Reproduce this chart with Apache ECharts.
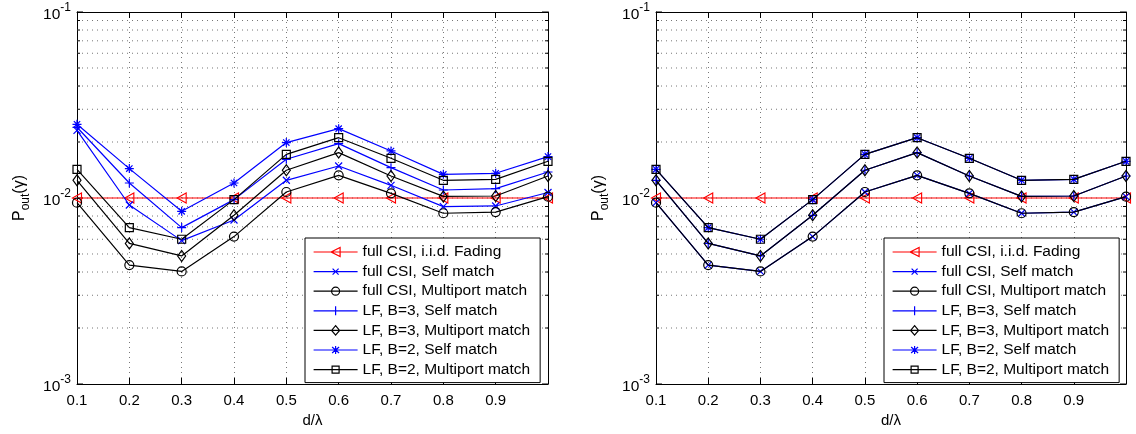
<!DOCTYPE html>
<html>
<head>
<meta charset="utf-8">
<script src="https://cdn.jsdelivr.net/npm/echarts@6/dist/echarts.min.js"></script>
<style>html,body{margin:0;padding:0;background:#fff;}#c{width:1136px;height:434px;}</style>
</head>
<body>
<div id="c"></div>
<script>
// ---- data ----
const xVals = [0.1, 0.2, 0.3, 0.4, 0.5, 0.6, 0.7, 0.8, 0.9, 1.0];
const xTickLabels = ['0.1','0.2','0.3','0.4','0.5','0.6','0.7','0.8','0.9',''];
const yLogTicks = [0.001,0.002,0.003,0.004,0.005,0.006,0.007,0.008,0.009,0.01,0.02,0.03,0.04,0.05,0.06,0.07,0.08,0.09,0.1];
const seriesNames = ['full CSI, i.i.d. Fading','full CSI, Self match','full CSI, Multiport match','LF, B=3, Self match','LF, B=3, Multiport match','LF, B=2, Self match','LF, B=2, Multiport match'];
// left panel
const iidFading   = [0.01, 0.01, 0.01, 0.01, 0.01, 0.01, 0.01, 0.01, 0.01, 0.01];
const selfFull    = [0.0231, 0.00917, 0.0059, 0.00762, 0.01245, 0.01486, 0.0117, 0.00899, 0.00906, 0.0107];
const multiFull   = [0.00944, 0.00436, 0.00403, 0.0062, 0.01077, 0.01324, 0.01059, 0.00828, 0.0084, 0.01017];
const selfB3      = [0.024, 0.01204, 0.00693, 0.0098, 0.01615, 0.0196, 0.01456, 0.01104, 0.01123, 0.0138];
const multiB3     = [0.01245, 0.0057, 0.00488, 0.00807, 0.0141, 0.01754, 0.01313, 0.0102, 0.01025, 0.01313];
const selfB2      = [0.0249, 0.01439, 0.00848, 0.01204, 0.01986, 0.0236, 0.0179, 0.0134, 0.01358, 0.0167];
const multiB2     = [0.01426, 0.00693, 0.006, 0.0098, 0.01717, 0.0211, 0.01635, 0.01245, 0.0126, 0.01575];
// right panel (self match curves coincide with multiport match curves)
const rIidFading  = [0.01, 0.01, 0.01, 0.01, 0.01, 0.01, 0.01, 0.01, 0.01, 0.01];
const rSelfFull   = [0.00944, 0.00436, 0.00403, 0.0062, 0.01077, 0.01324, 0.01059, 0.00828, 0.0084, 0.01017];
const rMultiFull  = [0.00944, 0.00436, 0.00403, 0.0062, 0.01077, 0.01324, 0.01059, 0.00828, 0.0084, 0.01017];
const rSelfB3     = [0.01245, 0.0057, 0.00488, 0.00807, 0.0141, 0.01754, 0.01313, 0.0102, 0.01025, 0.01313];
const rMultiB3    = [0.01245, 0.0057, 0.00488, 0.00807, 0.0141, 0.01754, 0.01313, 0.0102, 0.01025, 0.01313];
const rSelfB2     = [0.01426, 0.00693, 0.006, 0.0098, 0.01717, 0.0211, 0.01635, 0.01245, 0.0126, 0.01575];
const rMultiB2    = [0.01426, 0.00693, 0.006, 0.0098, 0.01717, 0.0211, 0.01635, 0.01245, 0.0126, 0.01575];

// ---- styles ----
const FONT = '"Liberation Sans", Arial, Helvetica, sans-serif';
const RED = '#ff0000', BLUE = '#0000ff', BLACK = '#000000';
const SYM = {
  tri: 'path://M0,5L10,0L10,10Z',
  x: 'path://M0,0L10,10M10,0L0,10',
  plus: 'path://M5,0L5,10M0,5L10,5',
  star: 'path://M5,0L5,10M0,5L10,5M1.5,1.5L8.5,8.5M8.5,1.5L1.5,8.5'
};
const LEG = [
  'path://M0,5L44,5M17.5,5L26.5,0.5L26.5,9.5Z',
  'path://M0,5L44,5M19,2L25,8M25,2L19,8',
  'path://M0,5L44,5M26,5A4,4 0 1 1 18,5A4,4 0 1 1 26,5Z',
  'path://M0,5L44,5M22,0.5L22,9.5',
  'path://M0,5L44,5M22,0.3L26,5L22,9.7L18,5Z',
  'path://M0,5L44,5M22,1L22,9M18.5,2L25.5,8M25.5,2L18.5,8',
  'path://M0,5L44,5M18.5,1.5L25.5,1.5L25.5,8.5L18.5,8.5Z'
];
const styles = [
  {color: RED,   symbol: SYM.tri,  size: [9, 10]},
  {color: BLUE,  symbol: SYM.x,    size: [7, 7]},
  {color: BLACK, symbol: 'circle', size: 9},
  {color: BLUE,  symbol: SYM.plus, size: [9, 9]},
  {color: BLACK, symbol: 'diamond', size: [8, 11]},
  {color: BLUE,  symbol: SYM.star, size: [9, 9]},
  {color: BLACK, symbol: 'rect',   size: 8}
];
const leftData = [iidFading, selfFull, multiFull, selfB3, multiB3, selfB2, multiB2];
const rightData = [rIidFading, rSelfFull, rMultiFull, rSelfB3, rMultiB3, rSelfB2, rMultiB2];

function lineSeries(i, arr, gi) {
  const s = styles[i];
  return {
    type: 'line', name: seriesNames[i],
    xAxisIndex: gi * 2, yAxisIndex: gi * 2,
    data: xVals.map((x, k) => [x, arr[k]]),
    symbol: s.symbol, symbolSize: s.size, showAllSymbol: true,
    lineStyle: {color: s.color, width: 1.2},
    itemStyle: {color: 'rgba(0,0,0,0)', borderColor: s.color, borderWidth: 1.2},
    emphasis: {disabled: true},
    z: 3 + i, animation: false
  };
}

function gridSeries(gi) {
  return {
    type: 'custom', xAxisIndex: gi * 2, yAxisIndex: gi * 2, silent: true, z: 1,
    data: yLogTicks.map(v => [xVals[0], v]),
    renderItem: function (params, api) {
      const v = api.value(1);
      const p0 = api.coord([xVals[0], v]);
      const p1 = api.coord([xVals[xVals.length - 1], v]);
      const lg = Math.log10(v);
      const major = Math.abs(lg - Math.round(lg)) < 1e-6;
      const tl = major ? 6 : 3;
      const ch = [];
      if (v > 0.0011 && v < 0.095) {
        ch.push({type: 'line', shape: {x1: p0[0], y1: p0[1], x2: p1[0], y2: p1[1]},
          style: {stroke: '#777', lineWidth: 1, lineDash: [1, 4]}});
      }
      ch.push({type: 'line', shape: {x1: p0[0], y1: p0[1], x2: p0[0] + tl, y2: p0[1]}, style: {stroke: '#000', lineWidth: 1}});
      ch.push({type: 'line', shape: {x1: p1[0], y1: p1[1], x2: p1[0] - tl, y2: p1[1]}, style: {stroke: '#000', lineWidth: 1}});
      return {type: 'group', children: ch};
    }
  };
}

function xAxisPair(gi) {
  const base = {
    type: 'value', gridIndex: gi, min: 0.1, max: 1.0, interval: 0.1,
    axisLine: {show: true, onZero: false, lineStyle: {color: '#000', width: 1}},
    axisTick: {show: true, inside: true, length: 6, lineStyle: {color: '#000'}},
  };
  return [
    Object.assign({}, base, {
      position: 'bottom',
      name: 'd/λ', nameLocation: 'middle', nameGap: 25,
      nameTextStyle: {color: '#000', fontSize: 15, fontFamily: FONT},
      axisLabel: {color: '#000', fontSize: 15, fontFamily: FONT, margin: 9,
        formatter: function (v) { const k = Math.round(v * 10) - 1; return xTickLabels[k] !== undefined ? xTickLabels[k] : ''; }},
      splitLine: {show: true, lineStyle: {color: '#777', width: 1, type: [1, 4]}}
    }),
    Object.assign({}, base, {position: 'top', axisLabel: {show: false}, splitLine: {show: false}})
  ];
}

function yAxisPair(gi) {
  const base = {
    type: 'log', logBase: 10, gridIndex: gi, min: 0.001, max: 0.1,
    axisLine: {show: true, onZero: false, lineStyle: {color: '#000', width: 1}},
    axisTick: {show: false}, splitLine: {show: false}, minorTick: {show: false}, minorSplitLine: {show: false}
  };
  return [
    Object.assign({}, base, {
      position: 'left',
      name: '{p|P}{o|out}{q|(γ)}', nameLocation: 'middle', nameGap: 45, nameRotate: 90,
      nameTextStyle: {color: '#000', fontFamily: FONT, rich: {
        p: {fontSize: 16, fontFamily: FONT, color: '#000', verticalAlign: 'bottom', padding: [0, 0, 4, 0]},
        o: {fontSize: 12, fontFamily: FONT, color: '#000', verticalAlign: 'bottom'},
        q: {fontSize: 16, fontFamily: FONT, color: '#000', verticalAlign: 'bottom', padding: [0, 0, 4, 0]}
      }},
      axisLabel: {margin: 6, color: '#000', fontFamily: FONT,
        formatter: function (v) { const e = Math.round(Math.log10(v)); return '{b|10}{s|' + e + '}'; },
        rich: {
          b: {fontSize: 15.5, fontFamily: FONT, color: '#000', verticalAlign: 'bottom'},
          s: {fontSize: 12, fontFamily: FONT, color: '#000', verticalAlign: 'bottom', padding: [0, 0, 9, 0]}
        }}
    }),
    Object.assign({}, base, {position: 'right', axisLabel: {show: false}, name: ''})
  ];
}

function legendFor(left) {
  return {
    data: seriesNames.map((n, i) => ({
      name: n, icon: LEG[i],
      itemStyle: {color: 'rgba(0,0,0,0)', borderColor: styles[i].color, borderWidth: 1.2}
    })),
    orient: 'vertical', left: left, top: 238,
    backgroundColor: '#fff', borderColor: '#000', borderWidth: 1, borderRadius: 0,
    padding: [6, 10, 5, 8], itemGap: 3.6, itemWidth: 44, itemHeight: 10,
    symbolKeepAspect: true,
    selectedMode: false,
    textStyle: {color: '#000', fontSize: 15.5, fontFamily: FONT}
  };
}

const series = [gridSeries(0), gridSeries(1)];
leftData.forEach((arr, i) => series.push(lineSeries(i, arr, 0)));
rightData.forEach((arr, i) => series.push(lineSeries(i, arr, 1)));

const option = {
  animation: false,
  backgroundColor: '#fff',
  grid: [
    {left: 77, top: 12, width: 471, height: 372, containLabel: false},
    {left: 656, top: 12, width: 470, height: 372, containLabel: false}
  ],
  xAxis: [].concat(xAxisPair(0), xAxisPair(1)),
  yAxis: [].concat(yAxisPair(0), yAxisPair(1)),
  legend: [legendFor(305), legendFor(884)],
  series: series
};
const chart = echarts.init(document.getElementById('c'), null, {renderer: 'canvas'});
chart.setOption(option);
</script>
</body>
</html>
